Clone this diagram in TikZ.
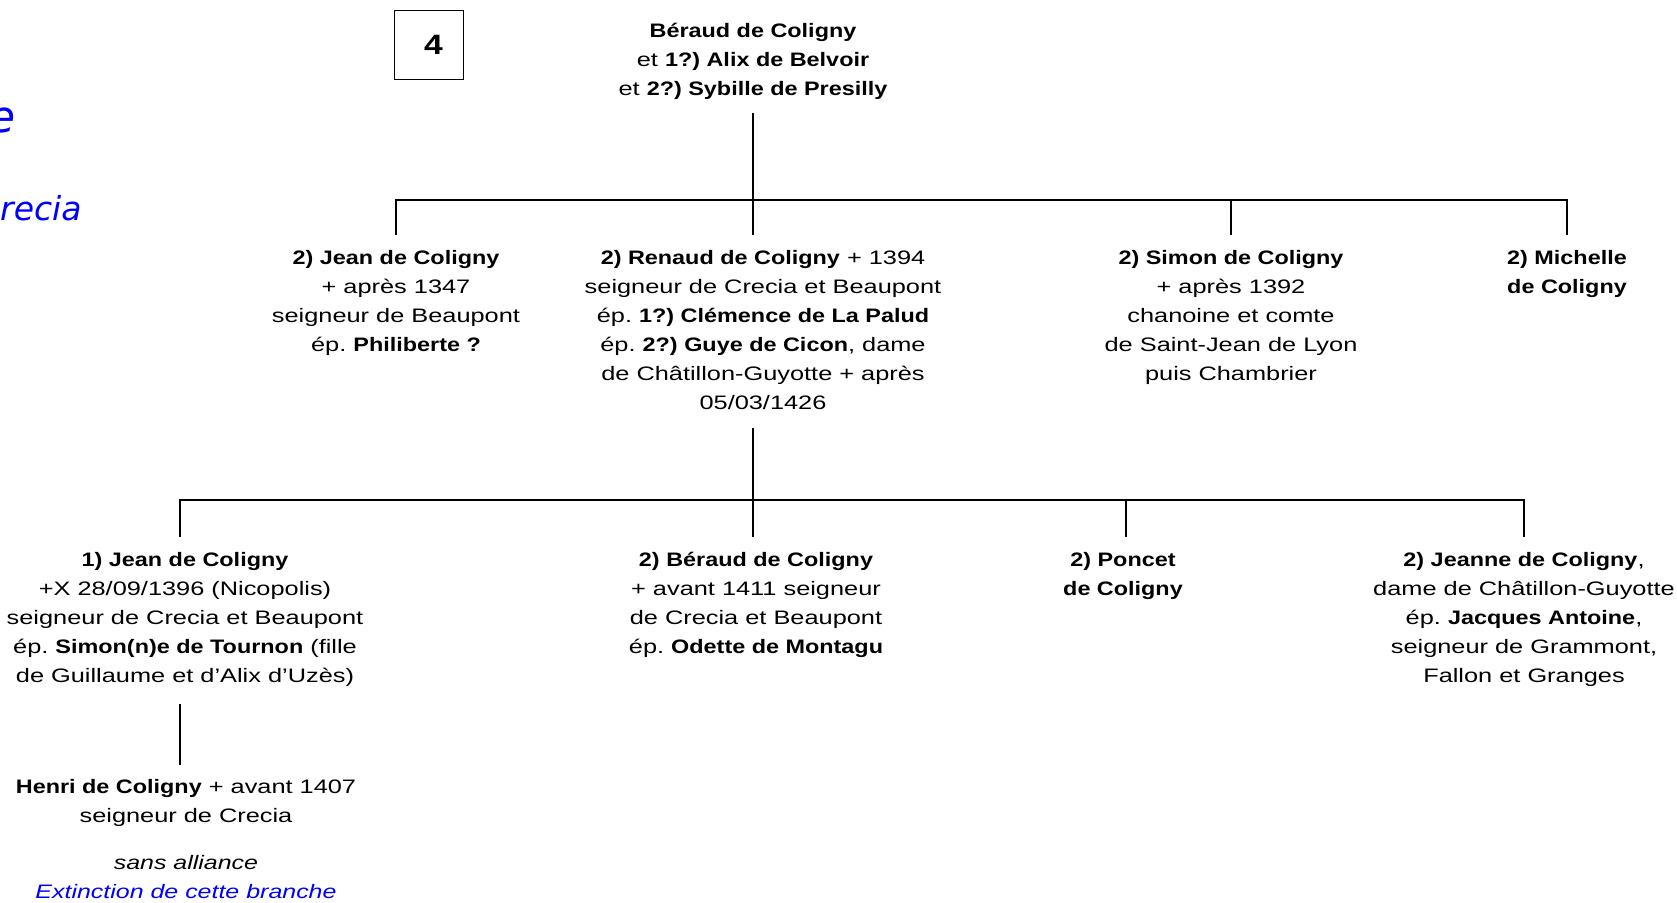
\documentclass[tikz,border=0pt]{standalone}
\usepackage{fontspec}
\setmainfont{Liberation Sans}[UprightFeatures={FakeStretch=1.3}, BoldFeatures={FakeStretch=1.2}, ItalicFeatures={FakeStretch=1.28}]
\newfontfamily\sidefont{DejaVu Sans}
\frenchspacing
\tikzset{
  person/.style={align=center, inner sep=0pt, anchor=north, font=\fontsize{9.75}{14.5}\selectfont},
  link/.style={line width=1pt},
}
\begin{document}
\begin{tikzpicture}[x=0.5pt,y=-0.5pt]
  \useasboundingbox (0,0) rectangle (1677,902);
  \clip (0,0) rectangle (1677,902);

  % cut titles on the left
  \node[anchor=base east, inner sep=0pt, text=blue, font=\sidefont\itshape\fontsize{22}{26}\selectfont] (cut1) at (16,132) {e};
  \node[anchor=base east, inner sep=0pt, text=blue, font=\sidefont\itshape\fontsize{16.5}{20}\selectfont] (cut2) at (82,220) {recia};

  \node[draw, line width=0.5pt, minimum size=34.5pt, inner sep=0pt, font=\fontsize{14}{16}\selectfont\bfseries] (gen) at (428.5,44.5) {\hspace*{5pt}4};

  % parents
  \node[person] (beraud) at (753,22.5) {\textbf{Béraud de Coligny}\\ et \textbf{1?) Alix de Belvoir}\\ et \textbf{2?) Sybille de Presilly}};

  % children
  \node[person] (jean2) at (396,249.5) {\textbf{2) Jean de Coligny}\\ + après 1347\\ seigneur de Beaupont\\ ép. \textbf{Philiberte ?}};
  \node[person] (renaud) at (763,249.5) {\textbf{2) Renaud de Coligny} + 1394\\ seigneur de Crecia et Beaupont\\ ép. \textbf{1?) Clémence de La Palud}\\ ép. \textbf{2?) Guye de Cicon}, dame\\ de Châtillon-Guyotte + après\\ 05/03/1426};
  \node[person] (simon) at (1231,249.5) {\textbf{2) Simon de Coligny}\\ + après 1392\\ chanoine et comte\\ de Saint-Jean de Lyon\\ puis Chambrier};
  \node[person] (michelle) at (1567,249.5) {\textbf{2) Michelle}\\ \textbf{de Coligny}};

  % grandchildren
  \node[person] (jean1) at (185,551.5) {\textbf{1) Jean de Coligny}\\ +X 28/09/1396 (Nicopolis)\\ seigneur de Crecia et Beaupont\\ ép. \textbf{Simon(n)e de Tournon} (fille\\ de Guillaume et d’Alix d’Uzès)};
  \node[person] (beraud2) at (756,551.5) {\textbf{2) Béraud de Coligny}\\ + avant 1411 seigneur\\ de Crecia et Beaupont\\ ép. \textbf{Odette de Montagu}};
  \node[person] (poncet) at (1123,551.5) {\textbf{2) Poncet}\\ \textbf{de Coligny}};
  \node[person] (jeanne) at (1524,551.5) {\textbf{2) Jeanne de Coligny},\\ dame de Châtillon-Guyotte\\ ép. \textbf{Jacques Antoine},\\ seigneur de Grammont,\\ Fallon et Granges};

  \node[person] (henri) at (186,778.5) {\textbf{Henri de Coligny} + avant 1407\\ seigneur de Crecia};
  \node[person] (note) at (186,854.5) {\textit{sans alliance}\\ \textcolor{blue}{\textit{Extinction de cette branche}}};

  \coordinate (fork1) at (753,200);
  \coordinate (fork2) at (753,500);

  \draw[link, shorten <=6.5pt] (beraud.south) -- (fork1);
  \draw[link, shorten >=7.25pt] (fork1) -| (jean2.north);
  \draw[link, shorten >=7.25pt] (fork1) -- (fork1 |- renaud.north);
  \draw[link, shorten >=7.25pt] (fork1) -| (simon.north);
  \draw[link, shorten >=7.25pt] (fork1) -| (michelle.north);

  \draw[link, shorten <=9pt] (fork2 |- renaud.south) -- (fork2);
  \draw[link, shorten >=7.25pt] (fork2) -| ([xshift=-2.5pt]jean1.north);
  \draw[link, shorten >=7.25pt] (fork2) -- (fork2 |- beraud2.north);
  \draw[link, shorten >=7.25pt] (fork2) -| ([xshift=1.5pt]poncet.north);
  \draw[link, shorten >=7.25pt] (fork2) -| (jeanne.north);

  \draw[link, shorten <=9pt, shorten >=6.75pt] ([xshift=-2.5pt]jean1.south) -- ([xshift=-2.5pt]jean1.south |- henri.north);
\end{tikzpicture}
\end{document}
